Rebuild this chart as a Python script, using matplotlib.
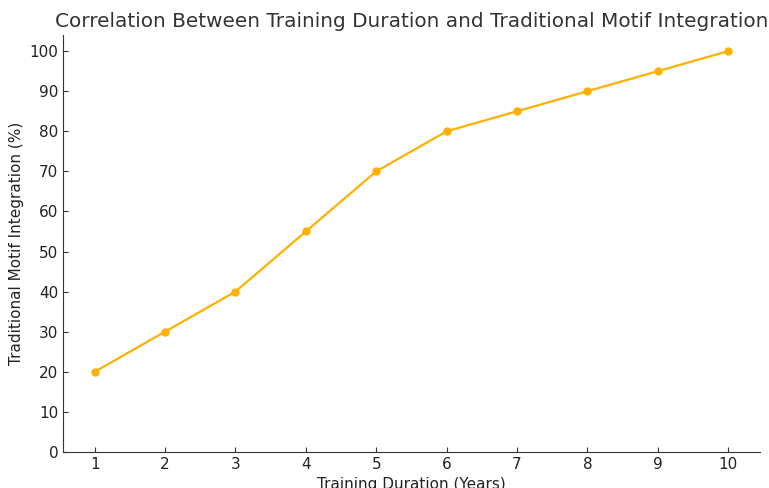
import numpy as np
import matplotlib.pyplot as plt

years = [1, 2, 3, 4, 5, 6, 7, 8, 9, 10]
integration = [20, 30, 40, 55, 70, 80, 85, 90, 95, 100]


def visualized_data():
    fig = plt.figure(figsize=(7.69, 4.88), dpi=100)
    ax = fig.add_axes([0.082, 0.074, 0.906, 0.854])
    ax.plot(years, integration, color='#FFB000', marker='o', markersize=5, linewidth=1.6)

    ax.set_xticks(years)
    ax.set_yticks(np.arange(0, 101, 10))
    ax.set_ylim(0, 104)
    ax.tick_params(direction='in', labelsize=11, colors='#333333', labelcolor='#222222')
    for side in ['top', 'right']:
        ax.spines[side].set_visible(False)
    for side in ['left', 'bottom']:
        ax.spines[side].set_color('#333333')

    ax.set_title('Correlation Between Training Duration and Traditional Motif Integration',
                 fontsize=14.4, color='#333333')
    # the x label sits partly below the bottom edge, as in the reference
    ax.set_xlabel('Training Duration (Years)', fontsize=11, color='#222222')
    ax.set_ylabel('Traditional Motif Integration (%)', fontsize=11, color='#222222')

    fig.savefig('out.png')


def main():
    visualized_data()


if __name__ == '__main__':
    main()
